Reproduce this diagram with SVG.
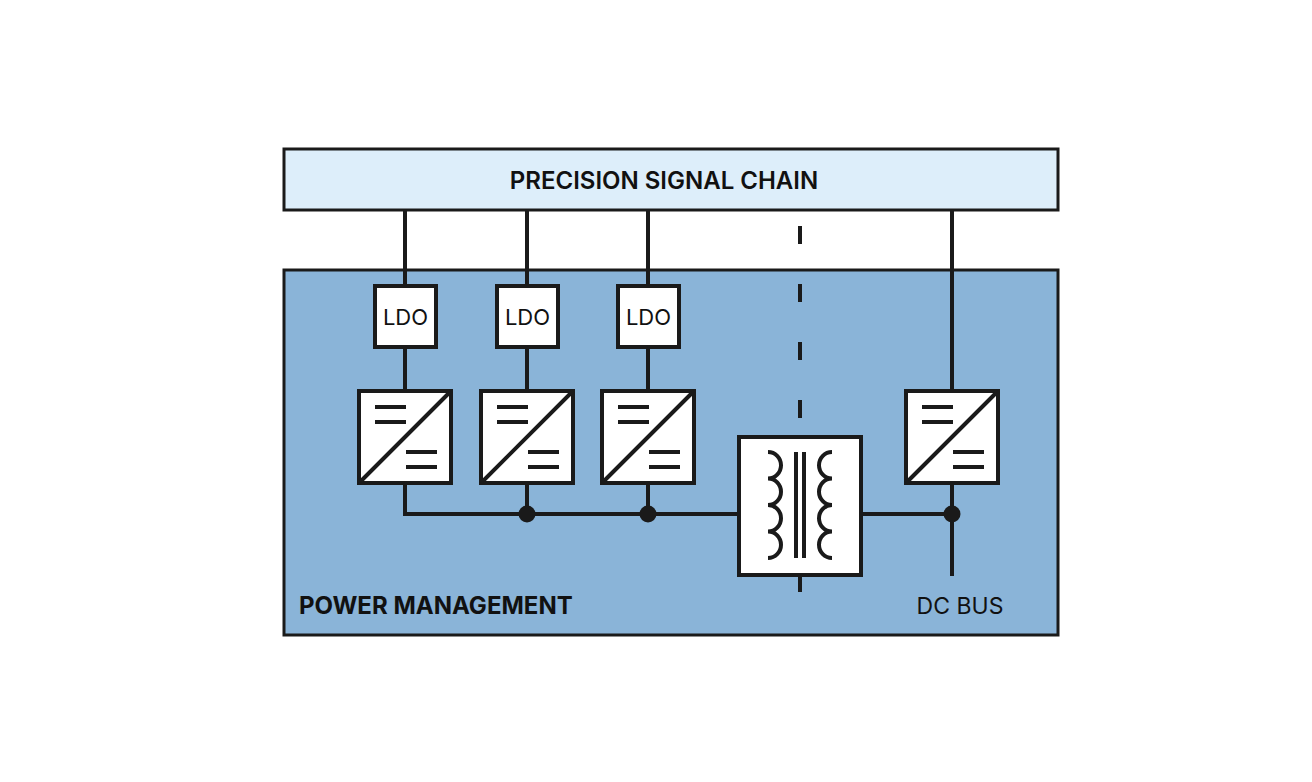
<svg xmlns="http://www.w3.org/2000/svg" width="1312" height="782" viewBox="0 0 1312 782">
<defs>
<style>
.b{stroke:#1a1a1a;stroke-width:4;fill:#fff}
.w{stroke:#1a1a1a;stroke-width:4;fill:none}
.t{font-family:Inter,"Liberation Sans",sans-serif;fill:#111}
</style>
<g id="conv"><rect class="b" x="0" y="0" width="92" height="92"/><path class="w" d="M0 92L92 0M16 16h31M16 31h31M47 61h31M47 76h31"/></g>
</defs>
<rect width="1312" height="782" fill="#fff"/>
<g id="signal"><rect x="284" y="149" width="774" height="61" fill="#ddeefa" stroke="#1a1a1a" stroke-width="3"/>
<text class="t" x="664" y="189" font-size="24" font-weight="600" text-anchor="middle">PRECISION SIGNAL CHAIN</text></g>
<g id="power"><rect x="284" y="270" width="774" height="365" fill="#8ab4d8" stroke="#1a1a1a" stroke-width="3"/>
<text class="t" x="299" y="614" font-size="24" font-weight="700">POWER MANAGEMENT</text>
<text class="t" x="960" y="614" font-size="23" text-anchor="middle">DC BUS</text></g>
<g id="connectors">
<path class="w" d="M405 210V286M527 210V286M648 210V286M952 210V391M405 347V391M527 347V391M648 347V391M405 483V514H739M527 483V514M648 483V514M861 514H952M952 483V576"/>
<path d="M800 226V620" stroke="#1a1a1a" stroke-width="4" stroke-dasharray="18,40"/>
<circle cx="527" cy="514" r="8.5" fill="#1a1a1a"/><circle cx="648" cy="514" r="8.5" fill="#1a1a1a"/><circle cx="952" cy="514" r="8.5" fill="#1a1a1a"/>
</g>
<g id="ldo1"><rect class="b" x="375" y="286" width="61" height="61"/><text class="t" x="405.5" y="325" font-size="22" text-anchor="middle">LDO</text></g>
<g id="ldo2"><rect class="b" x="497" y="286" width="61" height="61"/><text class="t" x="527.5" y="325" font-size="22" text-anchor="middle">LDO</text></g>
<g id="ldo3"><rect class="b" x="618" y="286" width="61" height="61"/><text class="t" x="648.5" y="325" font-size="22" text-anchor="middle">LDO</text></g>
<g id="conv1"><use href="#conv" x="359" y="391"/></g>
<g id="conv2"><use href="#conv" x="481" y="391"/></g>
<g id="conv3"><use href="#conv" x="602" y="391"/></g>
<g id="conv4"><use href="#conv" x="906" y="391"/></g>
<g id="transformer"><rect class="b" x="739" y="437" width="122" height="138"/>
<path class="w" d="M768 452a13 13.25 0 0 1 0 26.5a13 13.25 0 0 1 0 26.5a13 13.25 0 0 1 0 26.5a13 13.25 0 0 1 0 26.5"/>
<path class="w" d="M832 452a13 13.25 0 0 0 0 26.5a13 13.25 0 0 0 0 26.5a13 13.25 0 0 0 0 26.5a13 13.25 0 0 0 0 26.5"/>
<path class="w" d="M796 452V558M804 452V558"/></g>
</svg>
